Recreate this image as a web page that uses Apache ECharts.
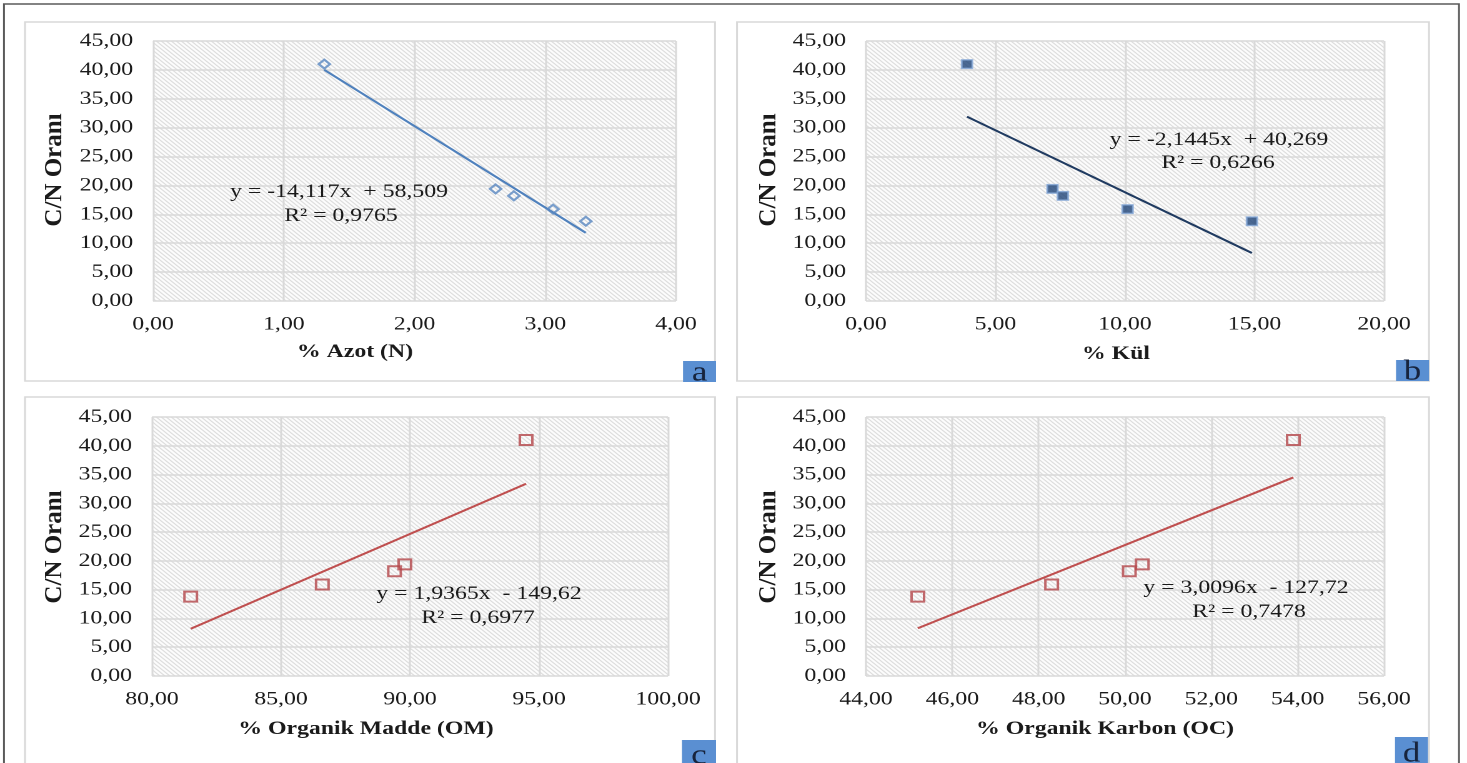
<!DOCTYPE html>
<html><head><meta charset="utf-8">
<script src="https://cdn.jsdelivr.net/npm/echarts@6/dist/echarts.min.js"></script>
<style>
html,body{margin:0;padding:0;background:#fff;overflow:hidden;}
#wrap{width:1467px;height:763px;overflow:hidden;position:relative;background:#fff;}
#chart{width:1174px;height:763px;transform:scaleX(1.24957);transform-origin:0 0;}
</style></head><body>
<div id="wrap"><div id="chart"></div></div>
<script>
// ---- data ----
const cnRatio = [41.0, 19.4, 18.2, 15.9, 13.8];
const azotN = [1.31, 2.62, 2.76, 3.06, 3.31];
const kul = [3.9, 7.2, 7.6, 10.1, 14.9];
const organikMadde = [94.5, 89.8, 89.4, 86.6, 81.5];
const organikKarbon = [53.9, 50.4, 50.1, 48.3, 45.2];

const trendA = [[1.31, 40.0], [3.31, 11.8]];
const trendB = [[3.9, 31.9], [14.9, 8.3]];
const trendC = [[81.5, 8.2], [94.5, 33.4]];
const trendD = [[45.2, 8.3], [53.9, 34.5]];

const yTicks = [0, 5, 10, 15, 20, 25, 30, 35, 40, 45];
const xTicksA = [0, 1, 2, 3, 4];
const xTicksB = [0, 5, 10, 15, 20];
const xTicksC = [80, 85, 90, 95, 100];
const xTicksD = [44, 46, 48, 50, 52, 54, 56];

const xTitles = ['% Azot (N)', '% Kül', '% Organik Madde (OM)', '% Organik Karbon (OC)'];
const yTitle = 'C/N Oranı';
const eqLine1 = ['y = -14,117x  + 58,509', 'y = -2,1445x  + 40,269', 'y = 1,9365x  - 149,62', 'y = 3,0096x  - 127,72'];
const eqLine2 = ['R² = 0,9765', 'R² = 0,6266', 'R² = 0,6977', 'R² = 0,7478'];
const panelLetters = ['a', 'b', 'c', 'd'];

// ---- layout (display pixels, converted to unscaled chart space) ----
const S = 1467 / 1174;
const ux = v => v / S;
const SERIF = '"Liberation Serif", "Times New Roman", serif';

const grids = [
  {l: 153, r: 676, t: 41, b: 301},
  {l: 866, r: 1384, t: 41, b: 301},
  {l: 152, r: 668, t: 417, b: 676},
  {l: 866, r: 1384, t: 417, b: 676}
];
const panels = [
  {x: 25, y: 22, w: 690, h: 359},
  {x: 737, y: 22, w: 692, h: 359},
  {x: 25, y: 397, w: 690, h: 400},
  {x: 737, y: 397, w: 692, h: 400}
];
const letterBoxes = [
  {x: 683, y: 361, w: 33, h: 21},
  {x: 1396, y: 360, w: 33, h: 21},
  {x: 682, y: 740, w: 34, h: 25},
  {x: 1395, y: 737, w: 33, h: 26}
];
const xTitlePos = [[355, 352], [1116, 354], [366, 729], [1105, 729]];
const yTitlePos = [[55, 170], [769, 170], [55, 547], [769, 547]];
const eqPos = [[339, 192, 341, 216], [1219, 140, 1218, 163], [479, 594, 478, 618], [1246, 588, 1249, 612]];

// hatch pattern
const pc = document.createElement('canvas');
pc.width = 4; pc.height = 4;
const pctx = pc.getContext('2d');
pctx.fillStyle = '#ffffff'; pctx.fillRect(0, 0, 4, 4);
pctx.strokeStyle = '#c9c9c9'; pctx.lineWidth = 1;
pctx.beginPath();
pctx.moveTo(-1, -1); pctx.lineTo(5, 5);
pctx.moveTo(-1, 3); pctx.lineTo(1, 5);
pctx.moveTo(3, -1); pctx.lineTo(5, 1);
pctx.stroke();
const hatch = {image: pc, repeat: 'repeat'};

const fmt = v => v.toFixed(2).replace('.', ',');
const xTickSets = [xTicksA, xTicksB, xTicksC, xTicksD];

const gridOpt = grids.map(g => ({
  left: ux(g.l), top: g.t, width: ux(g.r - g.l), height: g.b - g.t,
  show: true, backgroundColor: hatch, borderWidth: 0, containLabel: false
}));

const axisLabelStyle = {color: '#1a1a1a', fontFamily: SERIF, fontSize: 19};
const splitStyle = {show: true, lineStyle: {color: '#d9d9d9', width: 1.5}};

const xAxes = xTickSets.map((t, i) => ({
  type: 'value', gridIndex: i, min: t[0], max: t[t.length - 1], interval: t[1] - t[0],
  axisLine: {show: false}, axisTick: {show: false},
  axisLabel: Object.assign({margin: 14, formatter: fmt}, axisLabelStyle),
  splitLine: splitStyle
}));
const yAxes = [0, 1, 2, 3].map(i => ({
  type: 'value', gridIndex: i, min: yTicks[0], max: yTicks[yTicks.length - 1], interval: yTicks[1] - yTicks[0],
  axisLine: {show: false}, axisTick: {show: false},
  axisLabel: Object.assign({margin: 16, formatter: fmt}, axisLabelStyle),
  splitLine: splitStyle
}));

const pts = xs => xs.map((x, k) => [x, cnRatio[k]]);
const trendStyle = c => ({type: 'line', symbol: 'none', silent: true, lineStyle: {color: c, width: 2}, z: 3});

const series = [
  Object.assign(trendStyle('#4f81bd'), {xAxisIndex: 0, yAxisIndex: 0, data: trendA}),
  {type: 'scatter', xAxisIndex: 0, yAxisIndex: 0, data: pts(azotN), symbol: 'diamond', symbolSize: 9,
   itemStyle: {color: 'rgba(255,255,255,0)', borderColor: '#5a88c2', borderWidth: 2}, z: 4},
  Object.assign(trendStyle('#1f3a60'), {xAxisIndex: 1, yAxisIndex: 1, data: trendB}),
  {type: 'scatter', xAxisIndex: 1, yAxisIndex: 1, data: pts(kul), symbol: 'rect', symbolSize: 8.5,
   itemStyle: {color: '#1f4579', borderColor: '#86a9d8', borderWidth: 1.5}, z: 4},
  Object.assign(trendStyle('#bf4f4f'), {xAxisIndex: 2, yAxisIndex: 2, data: trendC}),
  {type: 'scatter', xAxisIndex: 2, yAxisIndex: 2, data: pts(organikMadde), symbol: 'rect', symbolSize: 10,
   itemStyle: {color: 'rgba(255,255,255,0)', borderColor: '#b4464a', borderWidth: 2}, z: 4},
  Object.assign(trendStyle('#bf4f4f'), {xAxisIndex: 3, yAxisIndex: 3, data: trendD}),
  {type: 'scatter', xAxisIndex: 3, yAxisIndex: 3, data: pts(organikKarbon), symbol: 'rect', symbolSize: 10,
   itemStyle: {color: 'rgba(255,255,255,0)', borderColor: '#b4464a', borderWidth: 2}, z: 4}
];

const graphic = [];
graphic.push({type: 'rect', z: 0, shape: {x: ux(4), y: 4, width: ux(1455), height: 800},
  style: {fill: 'none', stroke: '#5a5a5a', lineWidth: 1.5}});
panels.forEach(p => graphic.push({type: 'rect', z: 0, shape: {x: ux(p.x), y: p.y, width: ux(p.w), height: p.h},
  style: {fill: 'none', stroke: '#d9d9d9', lineWidth: 1.5}}));
letterBoxes.forEach((b, i) => {
  graphic.push({type: 'rect', z: 10, shape: {x: ux(b.x), y: b.y, width: ux(b.w), height: b.h},
    style: {fill: '#5a8fd2'}});
  graphic.push({type: 'text', z: 11, x: ux(b.x + b.w / 2), y: b.y + b.h + 5,
    style: {text: panelLetters[i], font: '28px ' + SERIF, fill: '#17243d', align: 'center', verticalAlign: 'bottom'}});
});
xTitlePos.forEach((p, i) => graphic.push({type: 'text', z: 10, x: ux(p[0]), y: p[1],
  style: {text: xTitles[i], font: 'bold 19px ' + SERIF, fill: '#1a1a1a', align: 'center', verticalAlign: 'middle'}}));
yTitlePos.forEach(p => graphic.push({type: 'text', z: 10, x: ux(p[0]), y: p[1], rotation: Math.PI / 2, scaleY: 1 / S,
  style: {text: yTitle, font: 'bold 25px ' + SERIF, fill: '#1a1a1a', align: 'center', verticalAlign: 'middle'}}));
eqPos.forEach((p, i) => {
  graphic.push({type: 'text', z: 10, x: ux(p[0]), y: p[1],
    style: {text: eqLine1[i], font: '19px ' + SERIF, fill: '#1a1a1a', align: 'center', verticalAlign: 'middle'}});
  graphic.push({type: 'text', z: 10, x: ux(p[2]), y: p[3],
    style: {text: eqLine2[i], font: '19px ' + SERIF, fill: '#1a1a1a', align: 'center', verticalAlign: 'middle'}});
});

const chart = echarts.init(document.getElementById('chart'), null, {renderer: 'canvas', devicePixelRatio: 2});
chart.setOption({
  animation: false,
  backgroundColor: '#ffffff',
  grid: gridOpt,
  xAxis: xAxes,
  yAxis: yAxes,
  series: series,
  graphic: graphic
});
</script>
</body></html>
